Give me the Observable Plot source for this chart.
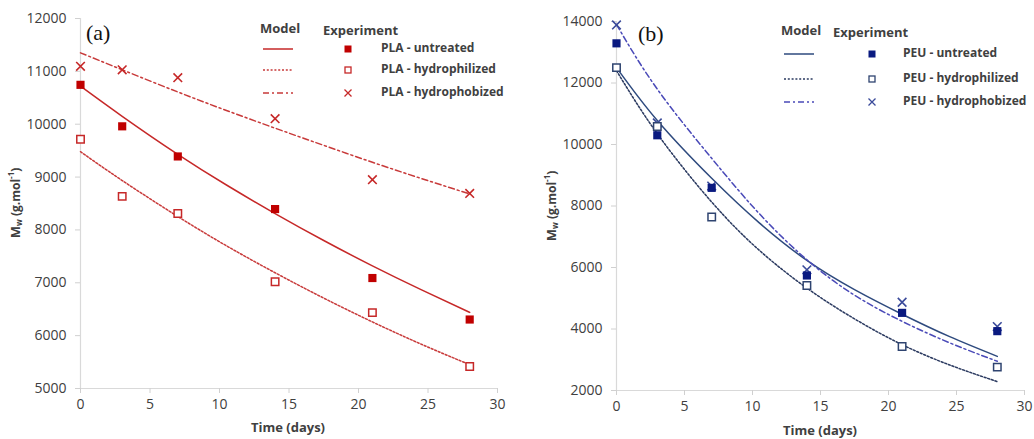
<!DOCTYPE html>
<html><head><meta charset="utf-8">
<script src="https://cdn.jsdelivr.net/npm/d3@7"></script>
<script src="https://cdn.jsdelivr.net/npm/@observablehq/plot@0.6"></script>
<style>
body{margin:0;background:#fff;}
#wrap{position:relative;width:1034px;height:439px;display:flex;overflow:hidden;}
.panel{position:relative;width:517px;height:439px;}
.panel svg{display:block}
.overlay{position:absolute;left:0;top:0;pointer-events:none;overflow:visible}
</style></head><body>
<div id="wrap"><div class="panel" id="pa"></div><div class="panel" id="pb"></div></div>
<script>
// ---- data ----
const days = [0, 3, 7, 14, 21, 28];
const modelDays = [0, 3, 7, 10.5, 14, 17.5, 21, 24.5, 28];
const seriesNames = ["untreated", "hydrophilized", "hydrophobized"];
const xTicks = [0, 5, 10, 15, 20, 25, 30];

const plaUntreated = [10745, 9960, 9390, 8395, 7090, 6305];
const plaHydrophilized = [9715, 8635, 8310, 7020, 6435, 5415];
const plaHydrophobized = [11095, 11030, 10880, 10105, 8950, 8690];
const plaModelUntreated = [10720, 10150, 9430, 8850, 8310, 7800, 7320, 6870, 6440];
const plaModelHydrophilized = [9480, 8935, 8255, 7700, 7190, 6710, 6260, 5840, 5450];
const plaModelHydrophobized = [11350, 11030, 10610, 10260, 9925, 9600, 9280, 8975, 8680];
const plaTicksY = [5000, 6000, 7000, 8000, 9000, 10000, 11000, 12000];

const peuUntreated = [13290, 10300, 8590, 5740, 4525, 3930];
const peuHydrophilized = [12500, 10585, 7640, 5415, 3430, 2760];
const peuHydrophobized = [13890, 10700, 8650, 5925, 4870, 4080];
const peuModelUntreated = [12500, 10780, 8900, 7450, 6230, 5280, 4480, 3750, 3110];
const peuModelHydrophilized = [12400, 10350, 8130, 6560, 5330, 4330, 3490, 2830, 2290];
const peuModelHydrophobized = [13900, 11800, 9550, 7750, 6250, 5100, 4250, 3550, 2950];
const peuTicksY = [2000, 4000, 6000, 8000, 10000, 12000, 14000];

// ---- styles ----
const dashes = {untreated: null, hydrophilized: "2,1.8", hydrophobized: "6,3,2,3"};
const FONT = "'Open Sans', sans-serif";
const TXT = "#404040";

function buildPanel(el, cfg) {
  const pts = [];
  cfg.exp.forEach((vals, i) => vals.forEach((v, j) => pts.push({t: days[j], v, s: seriesNames[i]})));
  const lines = [];
  cfg.model.forEach((vals, i) => vals.forEach((v, j) => lines.push({t: modelDays[j], v, s: seriesNames[i]})));
  const c = cfg.colors;
  const marks = [
    Plot.ruleX([0], {stroke: "#d9d9d9", strokeWidth: 1.2}),
    Plot.ruleY([cfg.yDomain[0]], {stroke: "#d9d9d9", strokeWidth: 1.2}),
    Plot.axisX({ticks: xTicks, tickSize: 5, tickPadding: 6, stroke: "#d0d0d0", fill: TXT, label: null, fontSize: 14}),
    Plot.axisY({ticks: cfg.yTicks, tickSize: 5, tickPadding: 9, stroke: "#d0d0d0", fill: TXT, label: null, fontSize: 14, tickFormat: d => String(d)}),
  ];
  seriesNames.forEach(s => {
    marks.push(Plot.line(lines.filter(d => d.s === s), {
      x: "t", y: "v", curve: "natural", stroke: c.line[s], strokeWidth: 1.5,
      strokeDasharray: dashes[s]
    }));
  });
  marks.push(Plot.dot(pts.filter(d => d.s === "hydrophobized"), {x: "t", y: "v", symbol: "times", r: 4, stroke: c.mark.hydrophobized, strokeWidth: 1.6}));
  marks.push(Plot.dot(pts.filter(d => d.s === "hydrophilized"), {x: "t", y: "v", symbol: "square", r: 4.2, stroke: c.mark.hydrophilized, fill: "white", strokeWidth: 1.5}));
  marks.push(Plot.dot(pts.filter(d => d.s === "untreated"), {x: "t", y: "v", symbol: "square", r: 4.6, fill: c.mark.untreated, stroke: "none"}));

  const chart = Plot.plot({
    width: 517, height: 439,
    marginLeft: cfg.ml, marginRight: cfg.mr, marginTop: cfg.mt, marginBottom: cfg.mb,
    x: {domain: [0, 30]},
    y: {domain: cfg.yDomain},
    style: {fontFamily: FONT, fontSize: "14px", color: TXT, background: "white", overflow: "visible"},
    marks
  });
  el.appendChild(chart);

  // overlay: titles, panel letter, legend
  const svg = d3.select(el).append("svg").attr("class", "overlay").attr("width", 517).attr("height", 439)
    .style("font-family", FONT);
  const yl = svg.append("text").attr("transform", `translate(${cfg.yLabel[0]},${cfg.yLabel[1]}) rotate(-90)`)
    .attr("text-anchor", "middle").attr("dominant-baseline", "middle")
    .attr("font-size", 12).attr("font-weight", 700).attr("fill", TXT);
  yl.append("tspan").attr("font-size", 13).text("M");
  yl.append("tspan").attr("font-size", 8).attr("dy", 3).text("w");
  yl.append("tspan").attr("dy", -3).text(" (g.mol");
  yl.append("tspan").attr("font-size", 8).attr("dy", -5).text("-1");
  yl.append("tspan").attr("dy", 5).text(")");
  svg.append("text").attr("x", cfg.xLabel[0]).attr("y", cfg.xLabel[1])
    .attr("text-anchor", "middle").attr("dominant-baseline", "middle")
    .attr("font-size", 13).attr("font-weight", 700).attr("fill", TXT).text("Time (days)");
  svg.append("text").attr("x", cfg.letter[0]).attr("y", cfg.letter[1])
    .attr("font-family", "'Liberation Serif', 'Times New Roman', serif").attr("font-size", 22).attr("fill", "#111")
    .text(cfg.letterText);
  const L = cfg.legend;
  svg.append("text").attr("x", L.modelX).attr("y", L.headY).attr("dominant-baseline", "middle")
    .attr("font-size", 13).attr("font-weight", 700).attr("fill", TXT).text("Model");
  svg.append("text").attr("x", L.expX).attr("y", L.headY + 2).attr("dominant-baseline", "middle")
    .attr("font-size", 13).attr("font-weight", 700).attr("fill", TXT).text("Experiment");
  seriesNames.forEach((s, i) => {
    const y = L.rows[i];
    svg.append("line").attr("x1", L.lineX[0]).attr("x2", L.lineX[1]).attr("y1", y).attr("y2", y)
      .attr("stroke", c.line[s]).attr("stroke-width", 1.5).attr("stroke-dasharray", dashes[s]);
    const g = svg.append("g").attr("transform", `translate(${L.markX},${y})`);
    if (s === "untreated") g.append("rect").attr("x", -3.5).attr("y", -3.5).attr("width", 7).attr("height", 7).attr("fill", c.mark.untreated);
    else if (s === "hydrophilized") g.append("rect").attr("x", -3).attr("y", -3).attr("width", 6).attr("height", 6).attr("fill", "white").attr("stroke", c.mark.hydrophilized).attr("stroke-width", 1.3);
    else g.append("path").attr("d", "M-3.5,-3.5L3.5,3.5M-3.5,3.5L3.5,-3.5").attr("stroke", c.mark.hydrophobized).attr("stroke-width", 1.3);
    svg.append("text").attr("x", L.textX).attr("y", y).attr("dominant-baseline", "middle")
      .attr("font-size", 12).attr("font-weight", 700).attr("fill", TXT).text(`${cfg.prefix} - ${s}`);
  });
}

buildPanel(document.getElementById("pa"), {
  exp: [plaUntreated, plaHydrophilized, plaHydrophobized],
  model: [plaModelUntreated, plaModelHydrophilized, plaModelHydrophobized],
  yDomain: [5000, 12000], yTicks: plaTicksY,
  ml: 80, mr: 20, mt: 18, mb: 51,
  colors: {
    line: {untreated: "#c62828", hydrophilized: "#c83a3a", hydrophobized: "#c83a3a"},
    mark: {untreated: "#c00000", hydrophilized: "#c62828", hydrophobized: "#c62828"}
  },
  yLabel: [17, 203], xLabel: [288, 429],
  letter: [86, 40], letterText: "(a)",
  prefix: "PLA",
  legend: {modelX: 260, expX: 323, headY: 30, rows: [49, 70, 93], lineX: [263, 293], markX: 348, textX: 381}
});

buildPanel(document.getElementById("pb"), {
  exp: [peuUntreated, peuHydrophilized, peuHydrophobized],
  model: [peuModelUntreated, peuModelHydrophilized, peuModelHydrophobized],
  yDomain: [2000, 14000], yTicks: peuTicksY,
  ml: 99, mr: 10, mt: 21, mb: 49,
  colors: {
    line: {untreated: "#2e4a7e", hydrophilized: "#2b3a60", hydrophobized: "#4a4ab8"},
    mark: {untreated: "#0a1a80", hydrophilized: "#2f4470", hydrophobized: "#3a4a9a"}
  },
  yLabel: [36, 206], xLabel: [303, 432],
  letter: [121, 41], letterText: "(b)",
  prefix: "PEU",
  legend: {modelX: 264, expX: 316, headY: 32, rows: [54, 79, 102], lineX: [267, 297], markX: 355, textX: 386}
});
</script>
</body></html>
